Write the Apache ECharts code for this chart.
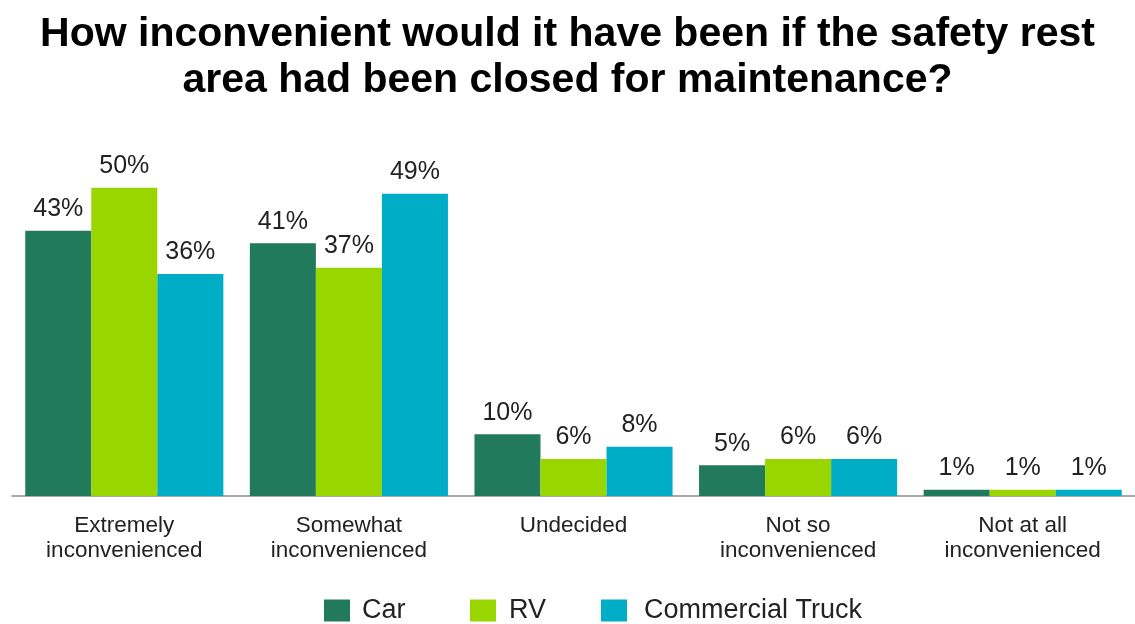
<!DOCTYPE html>
<html>
<head>
<meta charset="utf-8">
<script src="https://cdn.jsdelivr.net/npm/echarts@6/dist/echarts.min.js"></script>
<style>
  html, body { margin: 0; padding: 0; background: #ffffff; }
  #chart { width: 1135px; height: 624px; }
</style>
</head>
<body>
<div id="chart"></div>
<script>
// Survey responses by vehicle type (percent)
const categories = [
  'Extremely\ninconvenienced',
  'Somewhat\ninconvenienced',
  'Undecided',
  'Not so\ninconvenienced',
  'Not at all\ninconvenienced'
];
const carValues = [43, 41, 10, 5, 1];
const rvValues = [50, 37, 6, 6, 1];
const truckValues = [36, 49, 8, 6, 1];
const seriesNames = ['Car', 'RV', 'Commercial Truck'];
const titleText = 'How inconvenient would it have been if the safety rest\narea had been closed for maintenance?';

const colors = ['#217a5b', '#99d600', '#00adc6'];
const fontFamily = '"Liberation Sans", Arial, sans-serif';

function barSeries(name, data, color) {
  return {
    name: name,
    type: 'bar',
    data: data,
    barCategoryGap: '11.8%',
    barGap: '0%',
    itemStyle: { color: color },
    label: {
      show: true,
      position: 'top',
      distance: 9,
      formatter: '{c}%',
      fontFamily: fontFamily,
      fontSize: 25,
      color: '#222222'
    }
  };
}

// one legend entry per component so each swatch sits at its own slot
const legendLefts = [319, 465, 596];
const legendTextGaps = [7, 8, 12];
const legends = seriesNames.map(function (name, i) {
  return {
    data: [name],
    top: 592,
    left: legendLefts[i],
    itemWidth: 26,
    itemHeight: 22,
    icon: 'rect',
    textStyle: {
      fontFamily: fontFamily,
      fontSize: 27,
      lineHeight: 26,
      color: '#222222',
      padding: [0, 0, 0, legendTextGaps[i]]
    }
  };
});

const chart = echarts.init(document.getElementById('chart'));
chart.setOption({
  animation: false,
  backgroundColor: '#ffffff',
  title: {
    text: titleText,
    left: 'center',
    top: 7,
    textStyle: {
      fontFamily: fontFamily,
      fontWeight: 'bold',
      fontSize: 41,
      lineHeight: 46,
      color: '#000000'
    }
  },
  legend: legends,
  grid: {
    left: 12,
    right: -6,
    top: 126,
    height: 370,
    containLabel: false
  },
  xAxis: {
    type: 'category',
    data: categories,
    axisLine: { lineStyle: { color: '#8c8c8c', width: 1.5 } },
    axisTick: { show: false },
    axisLabel: {
      fontFamily: fontFamily,
      fontSize: 22.5,
      lineHeight: 25,
      color: '#222222',
      margin: 17,
      interval: 0
    }
  },
  yAxis: {
    type: 'value',
    min: 0,
    max: 60,
    show: false,
    splitLine: { show: false }
  },
  series: [
    barSeries(seriesNames[0], carValues, colors[0]),
    barSeries(seriesNames[1], rvValues, colors[1]),
    barSeries(seriesNames[2], truckValues, colors[2])
  ]
});
</script>
</body>
</html>
